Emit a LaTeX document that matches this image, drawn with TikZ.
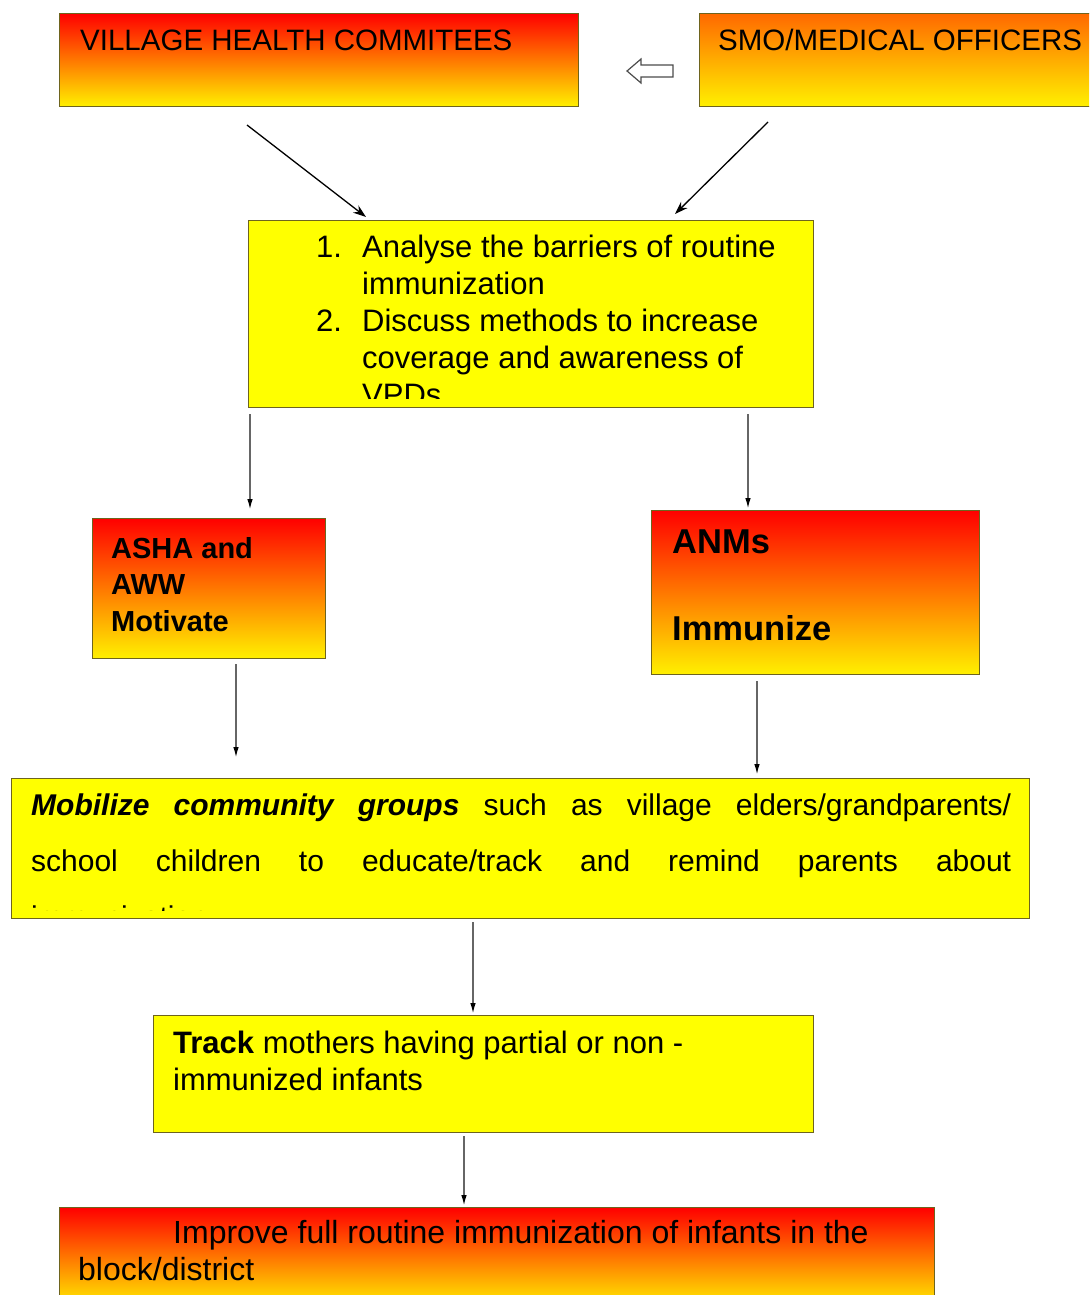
\documentclass[tikz,border=0pt]{standalone}
\usepackage{fontspec}
\setmainfont{Liberation Sans}
\usetikzlibrary{arrows.meta}
\definecolor{bordc}{RGB}{110,100,30}
\definecolor{ylw}{RGB}{255,255,0}
\definecolor{gbot}{RGB}{255,240,0}
\definecolor{gtop}{RGB}{255,0,0}
\definecolor{otop}{RGB}{255,105,0}
\begin{document}
\begin{tikzpicture}[x=1pt,y=-1pt,
  gbox/.style={draw=bordc, line width=1pt, top color=gtop, bottom color=gbot, rectangle, inner sep=0pt, anchor=north west},
  ybox/.style={draw=bordc, line width=1pt, fill=ylw, rectangle, inner sep=0pt, anchor=north west},
  txt/.style={anchor=base west, inner sep=0pt},
  bodyf/.style={font=\fontsize{31}{37}\selectfont},
  diag/.style={line width=1.3pt, -{Stealth[length=13pt,width=9pt]}},
  vert/.style={line width=1.6pt, draw=black!60, -{Latex[length=11pt,width=5.5pt,fill=black,color=black]}}
]
\useasboundingbox (0,0) rectangle (1089,1295);
\fill[white] (0,0) rectangle (1089,1295);
\begin{scope}
\clip (0,0) rectangle (1089,1295);
% top boxes
\node[gbox, minimum width=519pt, minimum height=93pt] (vhc) at (59,13) {};
\node[gbox, top color=otop, minimum width=420pt, minimum height=93pt] (smo) at (699,13) {};
\node[txt, font=\fontsize{29.5}{35}\selectfont] (tvhc) at (80,51) {VILLAGE HEALTH COMMITEES};
\node[txt, font=\fontsize{29.5}{35}\selectfont] (tsmo) at (718,51) {SMO/MEDICAL OFFICERS};
% hollow arrow
\draw[line width=1.2pt, draw=black!70, fill=white, line join=miter]
  (627,71) -- (641,59) -- (641,65) -- (673,65) -- (673,77) -- (641,77) -- (641,83) -- cycle;
% box C
\node[ybox, minimum width=565pt, minimum height=187pt] (anal) at (248,220) {};
\begin{scope}
\clip (248,220) rectangle (813,398);
\node[txt, bodyf] (n1) at (316,257) {1.};
\node[txt, bodyf] (l1) at (362,257) {Analyse the barriers of routine};
\node[txt, bodyf] (l2) at (362,294) {immunization};
\node[txt, bodyf] (n2) at (316,331) {2.};
\node[txt, bodyf] (l3) at (362,331) {Discuss methods to increase};
\node[txt, bodyf] (l4) at (362,368) {coverage and awareness of};
\node[txt, bodyf] (l5) at (362,405) {VPDs};
\end{scope}
% ASHA / ANM
\node[gbox, minimum width=233pt, minimum height=140pt] (asha) at (92,518) {};
\node[txt, font=\fontsize{29}{37}\selectfont\bfseries] (ta1) at (111,558) {ASHA and};
\node[txt, font=\fontsize{29}{37}\selectfont\bfseries] (ta2) at (111,594) {AWW};
\node[txt, font=\fontsize{29}{37}\selectfont\bfseries] (ta3) at (111,631) {Motivate};
\node[gbox, minimum width=328pt, minimum height=164pt] (anm) at (651,510) {};
\node[txt, font=\fontsize{34.5}{40}\selectfont\bfseries] (tn1) at (672,553) {ANMs};
\node[txt, font=\fontsize{34.5}{40}\selectfont\bfseries] (tn2) at (672,640) {Immunize};
% box F
\node[ybox, minimum width=1018pt, minimum height=140pt] (mob) at (11,778) {};
\begin{scope}
\clip (11,778) rectangle (1029,910);
\node[txt, font=\fontsize{30}{37}\selectfont] (m1) at (31,815) {\makebox[980pt][s]{\textbf{\textit{Mobilize community groups}} such as village elders/grandparents/}};
\node[txt, font=\fontsize{30}{37}\selectfont] (m2) at (31,871) {\makebox[980pt][s]{school children to educate/track and remind parents about}};
\node[txt, font=\fontsize{30}{37}\selectfont] (m3) at (31,927) {immunization};
\end{scope}
% box G
\node[ybox, minimum width=660pt, minimum height=117pt] (trk) at (153,1015) {};
\node[txt, bodyf] (g1) at (173,1053) {\textbf{Track} mothers having partial or non -};
\node[txt, bodyf] (g2) at (173,1090) {immunized infants};
% box H
\node[gbox, minimum width=875pt, minimum height=100pt] (imp) at (59,1207) {};
\node[txt, font=\fontsize{32}{37}\selectfont] (h1) at (173,1243) {Improve full routine immunization of infants in the};
\node[txt, font=\fontsize{32}{37}\selectfont] (h2) at (78,1280) {block/district};
% connectors
\coordinate (a1s) at (247,125); \coordinate (a1e) at (366,217);
\coordinate (a2s) at (768,122); \coordinate (a2e) at (675,214);
\draw[diag] (a1s) -- (a1e);
\draw[diag] (a2s) -- (a2e);
\coordinate (v1s) at (250,414); \coordinate (v1e) at (250,510);
\coordinate (v2s) at (748,414); \coordinate (v2e) at (748,509);
\coordinate (v3s) at (236,664); \coordinate (v3e) at (236,758);
\coordinate (v4s) at (757,681); \coordinate (v4e) at (757,775);
\coordinate (v5s) at (473,922); \coordinate (v5e) at (473,1014);
\coordinate (v6s) at (464,1136); \coordinate (v6e) at (464,1206);
\foreach \i in {1,...,6} {\draw[vert] (v\i s) -- (v\i e);}
\end{scope}
\end{tikzpicture}
\end{document}
